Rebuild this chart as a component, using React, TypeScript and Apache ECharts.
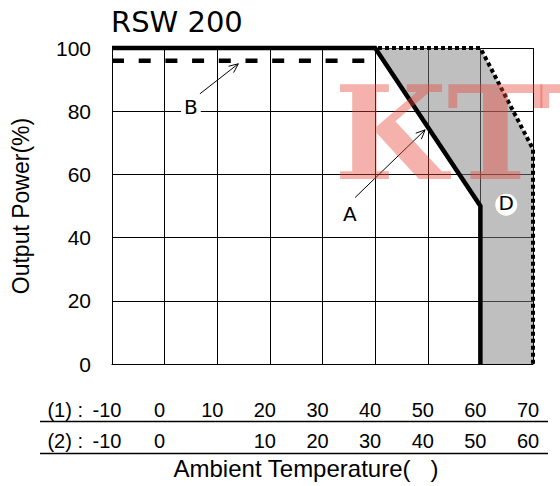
import React, { useEffect, useRef } from "react";
import * as echarts from "echarts";

// ---- data ----
const tempRow1 = [-10, 0, 10, 20, 30, 40, 50, 60, 70];
const tempRow2 = ["-10", "0", "", "10", "20", "30", "40", "50", "60"];
const powerMin = 0;
const powerMax = 100;
const powerStep = 20;

const curveA = [[-10, 100], [40, 100], [60, 50], [60, 0]];
const curveB = [[-10, 96], [40, 96]];
const curveD = [[-10, 100], [60, 100], [70, 68], [70, 0]];
const shadedArea = [[40, 100], [60, 100], [70, 68], [70, 0], [60, 0], [60, 50]];

const noteA = { text: "A", at: [35.2, 47.6], from: [36.2, 52.7], to: [49.5, 74.1] };
const noteB = { text: "B", at: [5.0, 81.2], from: [6.7, 85.5], to: [14.0, 95.0] };
const noteD = { text: "D", at: [64.9, 50.8] };

const titleText = "RSW 200";
const yName = "Output Power(%)";
const xName = "Ambient Temperature(   )";
const rowPrefix = ["(1) :", "(2) :"];
const watermark = "KTT";

const SANS = "'Liberation Sans', Arial, sans-serif";
const DEJAVU = "'DejaVu Sans', sans-serif";

export default function App() {
  const ref = useRef<HTMLDivElement>(null);

  useEffect(() => {
    document.body.style.margin = "0";
    if (!ref.current) return;
    const chart = echarts.init(ref.current, undefined, { renderer: "svg" });

    const option: any = {
      animation: false,
      backgroundColor: "#fff",
      grid: { left: 112, right: 27, top: 48, bottom: 122 },
      xAxis: [
        {
          type: "value",
          min: tempRow1[0],
          max: tempRow1[tempRow1.length - 1],
          interval: 10,
          position: "bottom",
          axisLine: { show: true, lineStyle: { color: "#000", width: 1 } },
          axisTick: { show: false },
          splitLine: { show: true, lineStyle: { color: "#000", width: 1 } },
          axisLabel: {
            color: "#000",
            fontSize: 20,
            fontFamily: SANS,
            margin: 36,
            padding: [0, 10, 0, 0],
            formatter: (v: number) => String(v),
          },
        },
        {
          type: "value",
          min: tempRow1[0],
          max: tempRow1[tempRow1.length - 1],
          interval: 10,
          position: "bottom",
          offset: 31,
          axisLine: { show: false },
          axisTick: { show: false },
          splitLine: { show: false },
          axisLabel: {
            color: "#000",
            fontSize: 20,
            fontFamily: SANS,
            margin: 36,
            padding: [0, 10, 0, 0],
            formatter: (v: number) => {
              const i = tempRow1.indexOf(v);
              return i >= 0 ? tempRow2[i] : "";
            },
          },
        },
      ],
      yAxis: {
        type: "value",
        min: powerMin,
        max: powerMax,
        interval: powerStep,
        axisLine: { show: true, lineStyle: { color: "#000", width: 1 } },
        axisTick: { show: false },
        splitLine: { show: true, lineStyle: { color: "#000", width: 1 } },
        axisLabel: { color: "#000", fontSize: 21, fontFamily: SANS, margin: 21 },
        name: yName,
        nameLocation: "middle",
        nameGap: 80,
        nameTextStyle: { color: "#000", fontSize: 23, fontFamily: SANS },
      },
      series: [
        {
          type: "custom",
          data: shadedArea,
          clip: false,
          z: 1,
          renderItem: (params: any, api: any) => {
            if (params.dataIndex !== 0) return null;
            const pts = shadedArea.map((p) => api.coord(p));
            return {
              type: "polygon",
              shape: { points: pts },
              style: { fill: "rgba(128,128,128,0.5)" },
            };
          },
        },
        {
          type: "line",
          data: curveD,
          symbol: "none",
          clip: false,
          z: 3,
          lineStyle: { color: "#000", width: 4, type: [4, 3], cap: "butt" },
        },
        {
          type: "line",
          data: curveB,
          symbol: "none",
          clip: false,
          z: 3,
          lineStyle: { color: "#000", width: 4.5, type: [12, 14.7], cap: "butt" },
        },
        {
          type: "line",
          data: curveA,
          symbol: "none",
          clip: false,
          z: 4,
          lineStyle: { color: "#000", width: 4.5, join: "miter" },
        },
      ],
    };
    chart.setOption(option);

    const P = (p: number[]) => chart.convertToPixel({ gridIndex: 0 }, p) as number[];
    const arrow = (from: number[], to: number[]) => {
      const a = P(from);
      const b = P(to);
      const dx = a[0] - b[0];
      const dy = a[1] - b[1];
      const len = Math.hypot(dx, dy);
      const ux = dx / len;
      const uy = dy / len;
      const h = 10;
      const ang = 0.42;
      const rot = (s: number) => [
        b[0] + h * (ux * Math.cos(s) - uy * Math.sin(s)),
        b[1] + h * (ux * Math.sin(s) + uy * Math.cos(s)),
      ];
      const l1 = rot(ang);
      const l2 = rot(-ang);
      const st = { stroke: "#000", lineWidth: 1 };
      return [
        { type: "line", z: 50, shape: { x1: a[0], y1: a[1], x2: b[0], y2: b[1] }, style: st },
        { type: "line", z: 50, shape: { x1: b[0], y1: b[1], x2: l1[0], y2: l1[1] }, style: st },
        { type: "line", z: 50, shape: { x1: b[0], y1: b[1], x2: l2[0], y2: l2[1] }, style: st },
      ];
    };

    const pA = P(noteA.at);
    const pB = P(noteB.at);
    const pD = P(noteD.at);
    const x0 = P([tempRow1[0], 0]);

    const graphic: any[] = [
      {
        type: "text",
        x: 111,
        y: 22,
        style: { text: titleText, fontSize: 29, fontFamily: DEJAVU, fill: "#000", verticalAlign: "middle", align: "left" },
      },
      ...arrow(noteA.from, noteA.to),
      ...arrow(noteB.from, noteB.to),
      {
        type: "text",
        z: 60,
        x: pA[0],
        y: pA[1],
        style: { text: noteA.text, fontSize: 20, fontFamily: DEJAVU, fill: "#000", align: "center", verticalAlign: "middle" },
      },
      {
        type: "text",
        z: 60,
        x: pB[0],
        y: pB[1],
        style: {
          text: noteB.text,
          fontSize: 20,
          fontFamily: DEJAVU,
          fill: "#000",
          align: "center",
          verticalAlign: "middle",
          backgroundColor: "#fff",
          padding: [0, 3],
        },
      },
      { type: "circle", z: 60, shape: { cx: pD[0], cy: pD[1], r: 11 }, style: { fill: "#fff" } },
      {
        type: "text",
        z: 61,
        x: pD[0],
        y: pD[1],
        style: { text: noteD.text, fontSize: 20, fontFamily: DEJAVU, fill: "#000", align: "center", verticalAlign: "middle" },
      },
      {
        type: "text",
        z: 40,
        x: x0[0] - 29,
        y: 410,
        style: { text: rowPrefix[0], fontSize: 20, fontFamily: SANS, fill: "#000", align: "right", verticalAlign: "middle" },
      },
      {
        type: "text",
        z: 40,
        x: x0[0] - 29,
        y: 441,
        style: { text: rowPrefix[1], fontSize: 20, fontFamily: SANS, fill: "#000", align: "right", verticalAlign: "middle" },
      },
      { type: "line", z: 40, shape: { x1: 40, y1: 421.5, x2: 548, y2: 421.5 }, style: { stroke: "#000", lineWidth: 1.3 } },
      { type: "line", z: 40, shape: { x1: 40, y1: 453.5, x2: 548, y2: 453.5 }, style: { stroke: "#000", lineWidth: 1.3 } },
      {
        type: "text",
        z: 40,
        x: 306,
        y: 468,
        style: { text: xName, fontSize: 24, fontFamily: SANS, fill: "#000", align: "center", verticalAlign: "middle" },
      },
      {
        type: "text",
        z: 100,
        x: 334,
        y: 133,
        silent: true,
        style: {
          text: watermark,
          fontSize: 130,
          fontWeight: "bold",
          fontFamily: "'DejaVu Serif', serif",
          fill: "rgba(230,70,55,0.42)",
          align: "left",
          verticalAlign: "middle",
        },
      },
    ];
    chart.setOption({ graphic });

    return () => chart.dispose();
  }, []);

  return <div ref={ref} style={{ width: 560, height: 486 }} />;
}
